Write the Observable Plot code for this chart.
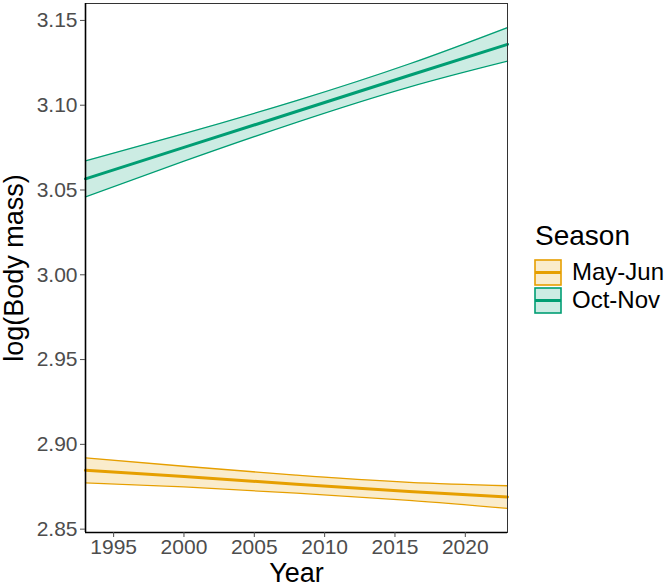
<!DOCTYPE html>
<html>
<head>
<meta charset="utf-8">
<script src="https://cdn.jsdelivr.net/npm/d3@7"></script>
<script src="https://cdn.jsdelivr.net/npm/@observablehq/plot@0.6"></script>
<style>
  html, body { margin: 0; padding: 0; background: #fff; }
  #chart { position: relative; width: 669px; height: 588px; font-family: "Liberation Sans", Arial, sans-serif; }
  #legend { position: absolute; left: 534px; top: 219px; color: #000; }
  #legend .title { font-size: 28px; line-height: 34px; margin-bottom: 5px; padding-left: 1px; }
  #legend .item { display: flex; align-items: center; height: 28px; }
  #legend .item svg { display: block; margin-right: 10px; }
  #legend .item span { font-size: 24px; }
</style>
</head>
<body>
<div id="chart"></div>
<script>
// Fitted log body mass by season, with 95% confidence band
const seasons = ["May-Jun", "Oct-Nov"];
const seasonColors = ["#E69F00", "#009E73"];
const years = [1993, 2000, 2008, 2016, 2023];

const mayJunFit   = [2.8847, 2.8810, 2.8765, 2.8722, 2.8690];
const mayJunLower = [2.8773, 2.8749, 2.8712, 2.8670, 2.8622];
const mayJunUpper = [2.8920, 2.8871, 2.8818, 2.8776, 2.8756];

const octNovFit   = [3.0566, 3.0751, 3.0963, 3.1175, 3.1359];
const octNovLower = [3.0460, 3.0670, 3.0899, 3.1107, 3.1260];
const octNovUpper = [3.0672, 3.0832, 3.1027, 3.1243, 3.1458];

const xTicks = [1995, 2000, 2005, 2010, 2015, 2020];
const yTicks = [2.85, 2.90, 2.95, 3.00, 3.05, 3.10, 3.15];

const rows = [];
years.forEach((year, i) => {
  rows.push({season: seasons[0], year, fit: mayJunFit[i], lower: mayJunLower[i], upper: mayJunUpper[i]});
  rows.push({season: seasons[1], year, fit: octNovFit[i], lower: octNovLower[i], upper: octNovUpper[i]});
});

// y range padded by 5% on each side of the band extent
const yMin = d3.min(rows, d => d.lower);
const yMax = d3.max(rows, d => d.upper);
const pad = (yMax - yMin) * 0.05;
const xDomain = [d3.min(years), d3.max(years)];

const chart = Plot.plot({
  width: 669,
  height: 588,
  marginLeft: 85,
  marginRight: 162,
  marginTop: 3,
  marginBottom: 56,
  style: {fontFamily: "'Liberation Sans', Arial, sans-serif", background: "#fff"},
  x: {domain: xDomain},
  y: {domain: [yMin - pad, yMax + pad]},
  color: {domain: seasons, range: seasonColors},
  marks: [
    Plot.areaY(rows, {x: "year", y1: "lower", y2: "upper", fill: "season", fillOpacity: 0.2, curve: "natural"}),
    Plot.line(rows, {x: "year", y: "lower", z: "season", stroke: "season", strokeWidth: 1.3, curve: "natural"}),
    Plot.line(rows, {x: "year", y: "upper", z: "season", stroke: "season", strokeWidth: 1.3, curve: "natural"}),
    Plot.line(rows, {x: "year", y: "fit", z: "season", stroke: "season", strokeWidth: 3}),
    Plot.frame({stroke: "#333", strokeWidth: 1}),
    Plot.ruleX([xDomain[0]], {stroke: "#000", strokeWidth: 1.6}),
    Plot.ruleY([yMin - pad], {stroke: "#000", strokeWidth: 1.6}),
    Plot.axisX({ticks: xTicks, tickFormat: "d", tickSize: 5, tickPadding: 2, fontSize: 21, color: "#4d4d4d", label: null}),
    Plot.axisY({ticks: yTicks, tickFormat: d3.format(".2f"), tickSize: 5, tickPadding: 3, fontSize: 21, color: "#4d4d4d", label: null}),
    Plot.text(["Year"], {frameAnchor: "bottom", dy: 41, lineAnchor: "middle", textAnchor: "middle", fontSize: 27, fill: "#000", text: d => d}),
    Plot.text(["log(Body mass)"], {frameAnchor: "left", dx: -71, rotate: -90, lineAnchor: "middle", textAnchor: "middle", fontSize: 27, fill: "#000", text: d => d})
  ]
});

const root = document.getElementById("chart");
root.appendChild(chart);

// Season legend beside the panel
const legend = document.createElement("div");
legend.id = "legend";
const title = document.createElement("div");
title.className = "title";
title.textContent = "Season";
legend.appendChild(title);
seasons.forEach((s, i) => {
  const item = document.createElement("div");
  item.className = "item";
  const c = seasonColors[i];
  item.innerHTML =
    `<svg width="28" height="27"><rect x="1" y="1" width="26" height="25" fill="${c}" fill-opacity="0.2" stroke="${c}" stroke-width="1.6"/>` +
    `<line x1="1" x2="27" y1="13.5" y2="13.5" stroke="${c}" stroke-width="3"/></svg><span>${s}</span>`;
  legend.appendChild(item);
});
root.appendChild(legend);
</script>
</body>
</html>
